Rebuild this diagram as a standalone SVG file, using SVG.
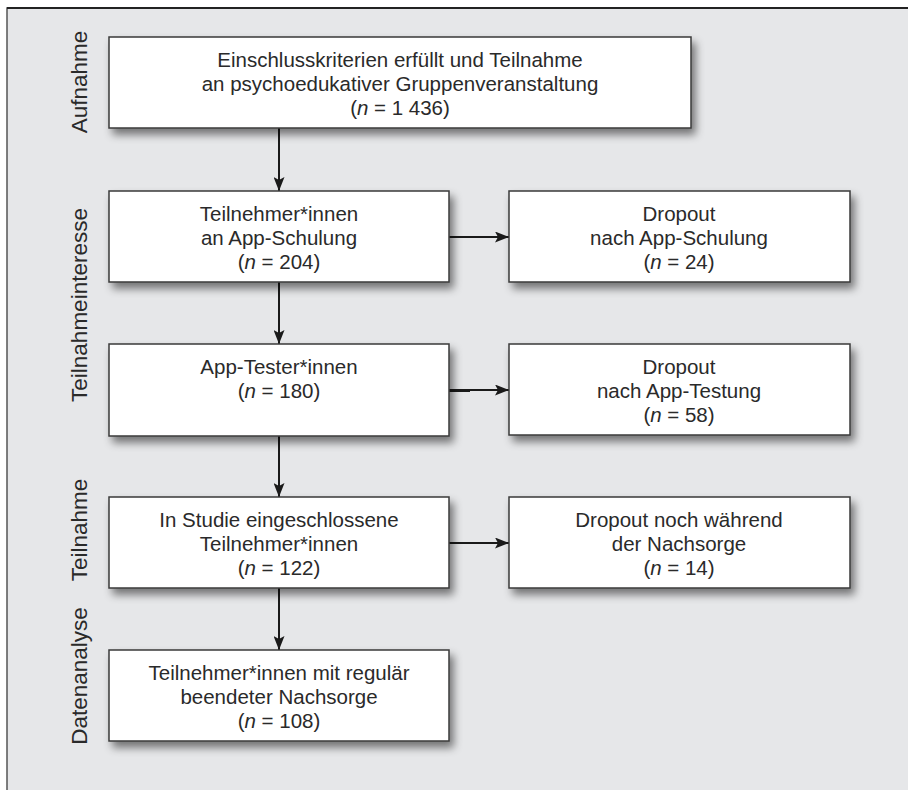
<svg xmlns="http://www.w3.org/2000/svg" width="908" height="790" viewBox="0 0 908 790">
<defs>
<filter id="sh" x="-10%" y="-20%" width="130%" height="160%">
<feGaussianBlur in="SourceAlpha" stdDeviation="4"/>
<feOffset dx="4" dy="6" result="b"/>
<feComponentTransfer><feFuncA type="linear" slope="0.5"/></feComponentTransfer>
<feMerge><feMergeNode/><feMergeNode in="SourceGraphic"/></feMerge>
</filter>
<marker id="ah" viewBox="0 0 14 11" refX="14" refY="5.5" markerWidth="14" markerHeight="11" markerUnits="userSpaceOnUse" orient="auto">
<path d="M0,0 L14,5.5 L0,11 L3,5.5 z" fill="#1a1a1a"/>
</marker>
<style>
.box{fill:#fff;stroke:#3a3a3a;stroke-width:1.5;filter:url(#sh)}
.t{font-family:"Liberation Sans",Arial,sans-serif;font-size:20.5px;fill:#2a2a2a;text-anchor:middle}
.side{font-family:"Liberation Sans",Arial,sans-serif;font-size:22.5px;fill:#2a2a2a;text-anchor:middle}
.c{stroke:#1a1a1a;stroke-width:2;fill:none;marker-end:url(#ah)}
</style>
</defs>
<rect x="0" y="0" width="908" height="790" fill="#fff"/>
<rect x="7" y="8" width="910" height="800" fill="#e6e7e9" stroke="#555" stroke-width="1.5"/>
<line x1="7" y1="8" x2="908" y2="8" stroke="#222" stroke-width="2"/>

<g id="side-labels">
<text class="side" transform="translate(87,82) rotate(-90)">Aufnahme</text>
<text class="side" transform="translate(87,305) rotate(-90)">Teilnahmeinteresse</text>
<text class="side" transform="translate(87,530) rotate(-90)">Teilnahme</text>
<text class="side" transform="translate(87,676) rotate(-90)">Datenanalyse</text>
</g>

<g id="connectors">
<line class="c" x1="279" y1="128" x2="279" y2="191"/>
<line class="c" x1="449" y1="237" x2="509" y2="237"/>
<line class="c" x1="279" y1="282" x2="279" y2="344"/>
<line class="c" x1="449" y1="390" x2="509" y2="390"/>
<line x1="449" y1="390.5" x2="470" y2="390.5" stroke="#1a1a1a" stroke-width="3"/>
<line class="c" x1="279" y1="436" x2="279" y2="497"/>
<line class="c" x1="449" y1="543" x2="509" y2="543"/>
<line class="c" x1="279" y1="588" x2="279" y2="650"/>
</g>

<g id="n1">
<rect class="box" x="109" y="37" width="582" height="91"/>
<text class="t" x="400" y="67">Einschlusskriterien erfüllt und Teilnahme</text>
<text class="t" x="400" y="91">an psychoedukativer Gruppenveranstaltung</text>
<text class="t" x="400" y="115">(<tspan font-style="italic">n</tspan> = 1 436)</text>
</g>
<g id="n2">
<rect class="box" x="109" y="191" width="340" height="91"/>
<text class="t" x="279" y="221">Teilnehmer*innen</text>
<text class="t" x="279" y="245">an App-Schulung</text>
<text class="t" x="279" y="269">(<tspan font-style="italic">n</tspan> = 204)</text>
</g>
<g id="n3">
<rect class="box" x="509" y="191" width="341" height="91"/>
<text class="t" x="679" y="221">Dropout</text>
<text class="t" x="679" y="245">nach App-Schulung</text>
<text class="t" x="679" y="269">(<tspan font-style="italic">n</tspan> = 24)</text>
</g>
<g id="n4">
<rect class="box" x="109" y="344" width="340" height="92"/>
<text class="t" x="279" y="374">App-Tester*innen</text>
<text class="t" x="279" y="398">(<tspan font-style="italic">n</tspan> = 180)</text>
</g>
<g id="n5">
<rect class="box" x="509" y="344" width="341" height="91"/>
<text class="t" x="679" y="374">Dropout</text>
<text class="t" x="679" y="398">nach App-Testung</text>
<text class="t" x="679" y="422">(<tspan font-style="italic">n</tspan> = 58)</text>
</g>
<g id="n6">
<rect class="box" x="109" y="497" width="340" height="91"/>
<text class="t" x="279" y="527">In Studie eingeschlossene</text>
<text class="t" x="279" y="551">Teilnehmer*innen</text>
<text class="t" x="279" y="575">(<tspan font-style="italic">n</tspan> = 122)</text>
</g>
<g id="n7">
<rect class="box" x="509" y="497" width="341" height="91"/>
<text class="t" x="679" y="527">Dropout noch während</text>
<text class="t" x="679" y="551">der Nachsorge</text>
<text class="t" x="679" y="575">(<tspan font-style="italic">n</tspan> = 14)</text>
</g>
<g id="n8">
<rect class="box" x="109" y="650" width="340" height="91"/>
<text class="t" x="279" y="680">Teilnehmer*innen mit regulär</text>
<text class="t" x="279" y="704">beendeter Nachsorge</text>
<text class="t" x="279" y="728">(<tspan font-style="italic">n</tspan> = 108)</text>
</g>
</svg>
